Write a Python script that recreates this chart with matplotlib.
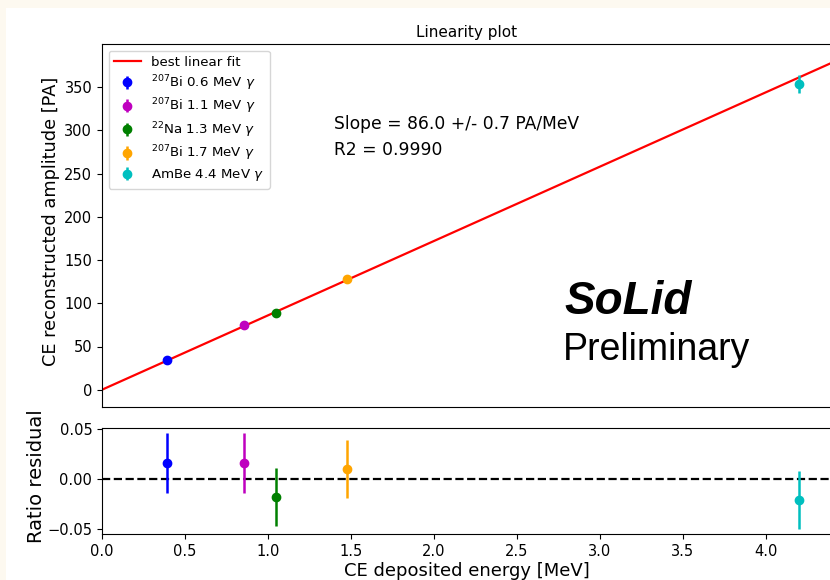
import matplotlib
matplotlib.use('Agg')
import matplotlib.pyplot as plt
from matplotlib.patches import Rectangle
import numpy as np

# ===== data =====
energy = [0.39, 0.855, 1.048, 1.476, 4.20]
amplitude = [34.1, 74.6, 88.5, 128.2, 354.0]
amp_err = [1.0, 2.2, 2.6, 3.8, 10.3]
residual = [0.016, 0.016, -0.018, 0.010, -0.021]
res_err = [0.030, 0.030, 0.029, 0.029, 0.029]
labels = [r'$^{207}$Bi 0.6 MeV $\gamma$', r'$^{207}$Bi 1.1 MeV $\gamma$',
          r'$^{22}$Na 1.3 MeV $\gamma$', r'$^{207}$Bi 1.7 MeV $\gamma$',
          r'AmBe 4.4 MeV $\gamma$']
colors = ['b', 'm', 'g', 'orange', 'c']
slope = 86.0
fit_x = [0.0, 4.4]

plt.rcParams['font.family'] = ['DejaVu Sans']

fig = plt.figure(figsize=(8.3, 5.8), dpi=100, facecolor='#fdf9f0')
# white page area (outer cream border on left / top)
fig.patches.append(Rectangle((6 / 830, 0), 1, 1 - 8 / 580, transform=fig.transFigure,
                             facecolor='white', edgecolor='none', zorder=-10))

ax = fig.add_axes([102 / 830, 1 - 407 / 580, 730 / 830, (407 - 44) / 580])
axr = fig.add_axes([102 / 830, 1 - 534 / 580, 730 / 830, (534 - 428) / 580])

# ===== main panel =====
ax.plot(fit_x, [slope * v for v in fit_x], color='red', lw=1.6, label='best linear fit')
for x, y, e, c, l in zip(energy, amplitude, amp_err, colors, labels):
    ax.errorbar(x, y, yerr=e, fmt='o', color=c, ms=6, elinewidth=1.8, label=l)
ax.set_xlim(0, 4.4)
ax.set_ylim(-20, 400)
ax.set_yticks(np.arange(0, 351, 50))
ax.tick_params(axis='x', bottom=False, labelbottom=False)
ax.tick_params(axis='y', labelsize=10.5)
ax.set_ylabel('CE reconstructed amplitude [PA]', fontsize=12.8)
ax.yaxis.set_label_coords(-0.058, 0.51)
ax.set_title('Linearity plot', fontsize=11, pad=5)
ax.legend(loc='upper left', fontsize=9.6, handlelength=2.0, borderaxespad=0.5,
          labelspacing=0.3)
ax.text(1.40, 307, 'Slope = 86.0 +/- 0.7 PA/MeV', fontsize=12.3, va='center')
ax.text(1.40, 277, 'R2 = 0.9990', fontsize=12.3, va='center')
ax.text(2.79, 101, 'SoLid', fontsize=33, fontweight='bold', fontstyle='italic',
        family='Liberation Sans', va='center')
ax.text(2.78, 46, 'Preliminary', fontsize=27, family='Liberation Sans', va='center')

# ===== residual panel =====
axr.axhline(0, color='black', ls='--', lw=1.6)
for x, r, e, c in zip(energy, residual, res_err, colors):
    axr.errorbar(x, r, yerr=e, fmt='o', color=c, ms=6, elinewidth=1.8)
axr.set_xlim(0, 4.4)
axr.set_ylim(-0.055, 0.051)
axr.set_yticks([-0.05, 0.0, 0.05])
axr.set_xticks(np.arange(0, 4.01, 0.5))
axr.tick_params(labelsize=10.5)
axr.set_ylabel('Ratio residual', fontsize=14)
axr.yaxis.set_label_coords(-0.077, 0.55)
axr.set_xlabel('CE deposited energy [MeV]', fontsize=13, labelpad=2)

fig.savefig('out.png', dpi=100, facecolor=fig.get_facecolor())
